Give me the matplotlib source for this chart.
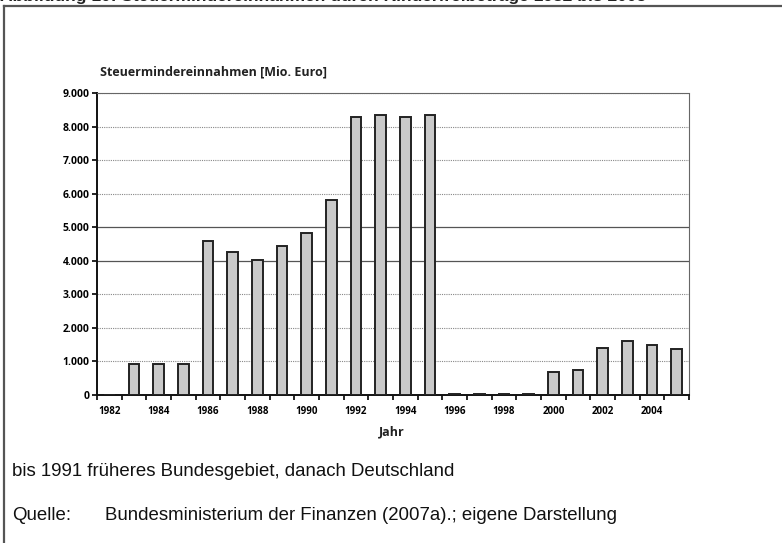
import numpy as np
import matplotlib
matplotlib.use("Agg")
import matplotlib.pyplot as plt
from matplotlib.lines import Line2D

# Data (Mio. Euro)
years = list(range(1982, 2006))
values = [0, 920, 920, 920, 4590, 4270, 4020, 4440, 4840, 5810,
          8290, 8340, 8290, 8340, 20, 20, 20, 20,
          690, 740, 1410, 1600, 1480, 1370]
y_ticks = [0, 1000, 2000, 3000, 4000, 5000, 6000, 7000, 8000, 9000]
y_labels = ["0", "1.000", "2.000", "3.000", "4.000", "5.000",
            "6.000", "7.000", "8.000", "9.000"]
x_labels = [str(y) if y % 2 == 0 else "" for y in years]

chart_font = "Open Sans"
note_font = "Liberation Sans"

fig = plt.figure(figsize=(7.82, 5.43), dpi=100)
W, H = 782, 543

# outer frame (left and top edges visible in the scan)
fig.add_artist(Line2D([3.5 / W, 3.5 / W], [0, 1 - 6 / H], color="#555555", lw=1.6))
fig.add_artist(Line2D([3.5 / W, 1], [1 - 6 / H, 1 - 6 / H], color="#555555", lw=1.6))

# caption, cut off at the top of the scan
fig.text(0.0, 1 - 1.5 / H,
         "Abbildung 10: Steuermindereinnahmen durch Kinderfreibeträge 1982 bis 2005",
         fontsize=12.5, fontweight="bold", family=note_font, ha="left", va="baseline",
         color="#222222")

ax = fig.add_axes([97 / W, 1 - 395 / H, (689 - 97) / W, (395 - 93) / H])
x = np.arange(len(years))
ax.bar(x, values, width=0.42, color="#c9c9c9", edgecolor="#222222", linewidth=1.4,
       zorder=3)

ax.set_xlim(-0.5, len(years) - 0.5)
ax.set_ylim(0, 9000)

# gridlines: 4.000 and 5.000 solid, others dotted
for v in y_ticks[1:]:
    if v in (4000, 5000):
        ax.axhline(v, color="#555555", lw=0.9, zorder=1)
    else:
        ax.axhline(v, color="#888888", lw=0.8, ls=(0, (1, 1)), zorder=1)

ax.set_yticks(y_ticks)
ax.set_yticklabels(y_labels, fontsize=7.5, fontweight="bold", family=chart_font)
ax.set_xticks(x)
ax.set_xticklabels(x_labels, fontsize=7, fontweight="bold", family=chart_font)
ax.tick_params(axis="x", length=0, pad=8)
ax.set_xticks(np.arange(len(years) + 1) - 0.5, minor=True)
ax.tick_params(axis="x", which="minor", length=3.5, width=1.2, direction="out")
ax.tick_params(axis="y", length=3.5, width=1.2, direction="out", pad=2)

for s in ["top", "right"]:
    ax.spines[s].set_linestyle((0, (1, 1)))
    ax.spines[s].set_color("#666666")
    ax.spines[s].set_linewidth(0.8)
for s in ["left", "bottom"]:
    ax.spines[s].set_color("#111111")
    ax.spines[s].set_linewidth(1.4)

fig.text(100 / W, 1 - 72 / H, "Steuermindereinnahmen [Mio. Euro]", fontsize=9,
         fontweight="bold", family=chart_font, ha="left", va="center", color="#222222")
fig.text(392 / W, 1 - 432 / H, "Jahr", fontsize=9, fontweight="bold",
         family=chart_font, ha="center", va="center", color="#222222")

fig.text(12 / W, 1 - 476 / H, "bis 1991 früheres Bundesgebiet, danach Deutschland",
         fontsize=13.4, family=note_font, ha="left", va="baseline", color="#111111")
fig.text(12 / W, 1 - 520 / H, "Quelle:", fontsize=13.4, family=note_font,
         ha="left", va="baseline", color="#111111")
fig.text(105 / W, 1 - 520 / H,
         "Bundesministerium der Finanzen (2007a).; eigene Darstellung",
         fontsize=13.4, family=note_font, ha="left", va="baseline", color="#111111")

fig.savefig("out.png", dpi=100)
